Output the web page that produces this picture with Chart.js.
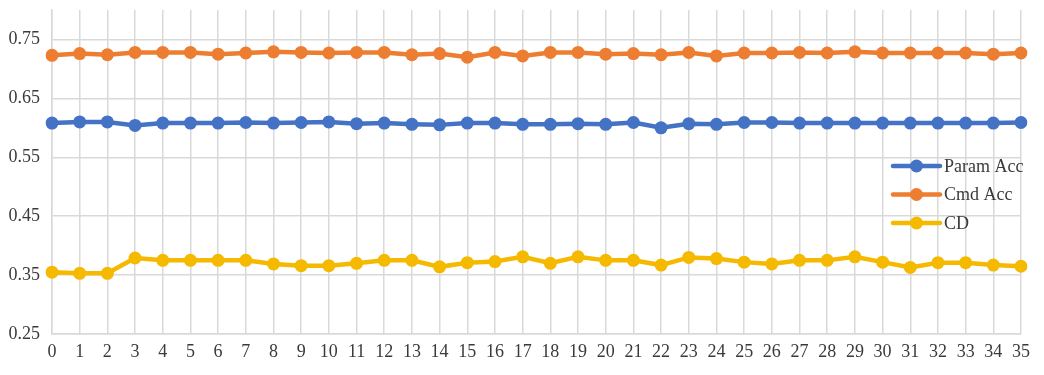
<!DOCTYPE html>
<html>
<head>
<meta charset="utf-8">
<script src="https://cdn.jsdelivr.net/npm/chart.js@4/dist/chart.umd.min.js"></script>
<style>
  html, body { margin: 0; padding: 0; background: #fff; }
  #wrap { width: 1044px; height: 375px; }
</style>
</head>
<body>
<div id="wrap"><canvas id="c" width="1044" height="375"></canvas></div>
<script>
const categories = Array.from({length: 36}, (_, i) => String(i));
const paramAcc = [0.608,0.610,0.610,0.604,0.608,0.608,0.608,0.609,0.608,0.609,0.610,0.607,0.608,0.606,0.605,0.608,0.608,0.606,0.606,0.607,0.606,0.609,0.600,0.607,0.606,0.609,0.609,0.608,0.608,0.608,0.608,0.608,0.608,0.608,0.608,0.609];
const cmdAcc = [0.723,0.726,0.724,0.728,0.728,0.728,0.725,0.727,0.729,0.728,0.727,0.728,0.728,0.724,0.726,0.720,0.728,0.722,0.728,0.728,0.725,0.726,0.724,0.728,0.722,0.727,0.727,0.728,0.727,0.729,0.727,0.727,0.727,0.727,0.725,0.727];
const cd = [0.355,0.353,0.353,0.379,0.375,0.375,0.375,0.375,0.369,0.366,0.366,0.370,0.375,0.375,0.364,0.371,0.373,0.381,0.370,0.381,0.375,0.375,0.367,0.380,0.378,0.372,0.369,0.375,0.375,0.381,0.372,0.363,0.371,0.371,0.367,0.365];
const yTicks = [0.25, 0.35, 0.45, 0.55, 0.65, 0.75];
const seriesNames = ['Param Acc', 'Cmd Acc', 'CD'];
const seriesColors = ['#4472C4', '#ED7D31', '#F5B900'];

const FONT = '"Liberation Serif", "Times New Roman", serif';
const gridColor = '#D9D9D9';
const textColor = '#3a3a3a';

const legendPlugin = {
  id: 'innerLegend',
  afterDraw(chart) {
    const ctx = chart.ctx;
    const x0 = 893, x1 = 940, tx = 944;
    const ys = [166, 194.5, 223];
    ctx.save();
    chart.data.datasets.forEach((ds, i) => {
      const y = ys[i];
      ctx.strokeStyle = ds.borderColor;
      ctx.lineWidth = 4.5;
      ctx.lineCap = 'round';
      ctx.beginPath(); ctx.moveTo(x0, y); ctx.lineTo(x1, y); ctx.stroke();
      ctx.fillStyle = ds.borderColor;
      ctx.beginPath(); ctx.arc((x0 + x1) / 2, y, 6.5, 0, Math.PI * 2); ctx.fill();
      ctx.fillStyle = textColor;
      ctx.font = '18px ' + FONT;
      ctx.textBaseline = 'middle';
      ctx.textAlign = 'left';
      ctx.fillText(ds.label, tx, y + 1);
    });
    ctx.restore();
  }
};

new Chart(document.getElementById('c'), {
  type: 'line',
  data: {
    labels: categories,
    datasets: [paramAcc, cmdAcc, cd].map((d, i) => ({
      label: seriesNames[i],
      data: d,
      borderColor: seriesColors[i],
      backgroundColor: seriesColors[i],
      pointBackgroundColor: seriesColors[i],
      pointBorderColor: seriesColors[i],
      borderWidth: 4.5,
      pointRadius: 6.5,
      pointBorderWidth: 0,
      tension: 0,
      fill: false
    }))
  },
  options: {
    responsive: false,
    animation: false,
    layout: { padding: { top: 10, right: 23, left: 0, bottom: 0 } },
    plugins: { legend: { display: false }, tooltip: { enabled: false } },
    scales: {
      x: {
        type: 'category',
        offset: false,
        grid: { color: gridColor, lineWidth: 1.5, drawTicks: false },
        border: { color: gridColor, width: 1.5 },
        ticks: { color: textColor, font: { family: FONT, size: 18 }, padding: 7, maxRotation: 0, autoSkip: false },
        afterFit(scale) { scale.height = 41; scale.paddingLeft = 0; scale.paddingRight = 0; }
      },
      y: {
        min: 0.25,
        max: 0.80,
        grid: { color: gridColor, lineWidth: 1.5, drawTicks: false },
        border: { color: gridColor, width: 1.5 },
        ticks: { color: textColor, font: { family: FONT, size: 18 }, padding: 12, callback: v => Number(v).toFixed(2) },
        afterBuildTicks(scale) { scale.ticks = yTicks.map(v => ({ value: v })); },
        afterFit(scale) { scale.width = 52; scale.paddingTop = 0; scale.paddingBottom = 0; }
      }
    }
  },
  plugins: [legendPlugin]
});
</script>
</body>
</html>
